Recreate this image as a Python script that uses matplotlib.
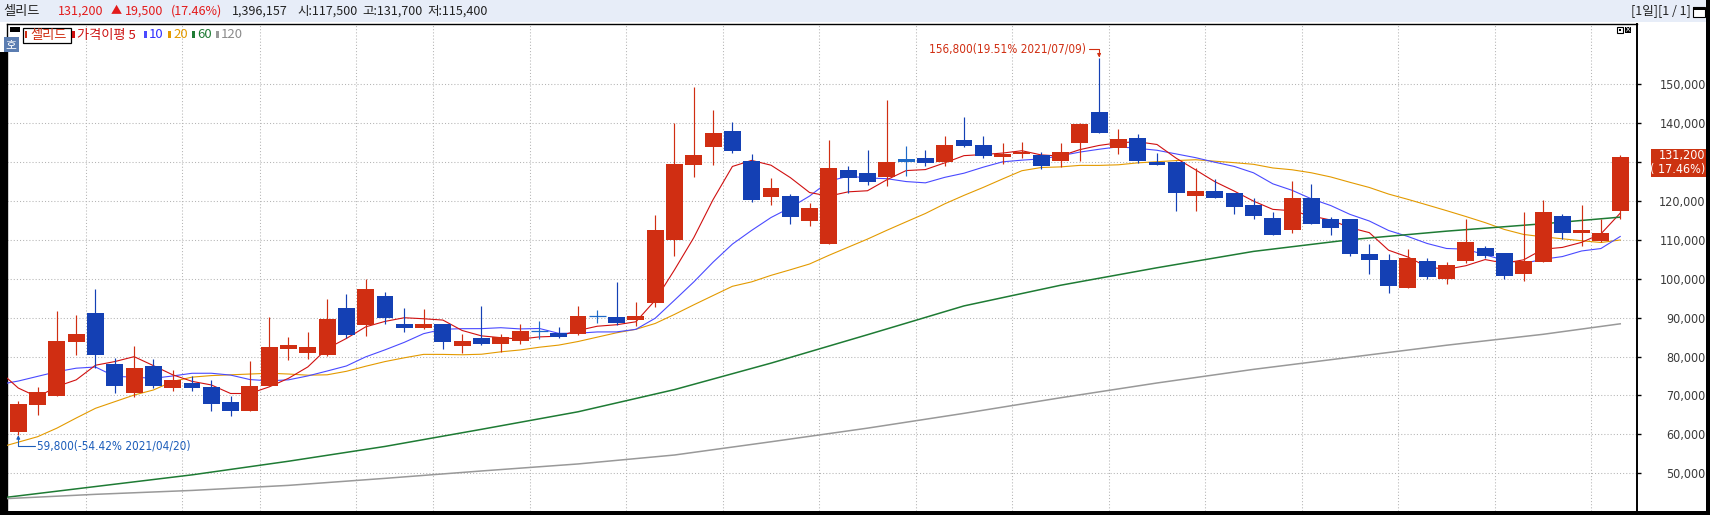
import matplotlib
matplotlib.use('Agg')
import matplotlib.pyplot as plt
import matplotlib.patches as mpatches
from matplotlib import font_manager as fm
import pandas as pd

W, H = 1710, 515

# trading days shown (Korean market holidays removed)
dates = pd.bdate_range('2021-04-20', '2021-08-18')
dates = dates[~dates.isin(pd.to_datetime(['2021-05-05', '2021-05-19', '2021-08-16']))]

opens = [60700, 67600, 69900, 83800, 91200, 78100, 70600, 77600, 71800, 73300,
         72200, 68300, 66100, 72500, 82000, 80900, 80400, 92500, 88100, 95600,
         88400, 87200, 88400, 82800, 84800, 83200, 84100, 86600, 86100, 85800,
         90400, 90200, 89500, 93800, 109900, 129300, 133900, 137900, 130200, 121100,
         121200, 114700, 108800, 128000, 127100, 126100, 130800, 131100, 129900, 135700,
         134400, 131300, 131900, 131700, 130100, 134800, 142900, 133500, 136200, 129900,
         129900, 121200, 122400, 121900, 118800, 115700, 112400, 120600, 115200, 115200,
         106400, 104900, 97700, 104600, 99800, 104600, 108000, 106700, 101300, 104400,
         116200, 111800, 109800, 117500]
highs = [68700, 72100, 91800, 90700, 97400, 79600, 82700, 79400, 76600, 75000,
         74000, 69900, 78900, 90200, 85000, 86200, 94800, 96100, 99800, 96600,
         92500, 92200, 88400, 85800, 93000, 85800, 88400, 89100, 87600, 93000,
         92000, 99200, 94000, 116400, 139900, 149300, 143300, 140200, 131900, 125900,
         121800, 119400, 135700, 129000, 133100, 146000, 134200, 133100, 136700, 141600,
         136700, 134900, 135200, 132500, 134900, 140000, 156800, 138500, 137200, 132400,
         130300, 128400, 125600, 121900, 120600, 117100, 125200, 124400, 115900, 115200,
         109000, 106400, 107500, 105400, 104400, 115400, 108500, 106700, 117000, 120100,
         116700, 118800, 115400, 131700]
lows = [59800, 65000, 69800, 80400, 77000, 70700, 69500, 71900, 71200, 71200,
        65900, 64600, 66100, 72500, 79000, 79400, 80200, 84700, 85300, 88400,
        86400, 87000, 82000, 80900, 83000, 81100, 83200, 84400, 84800, 85500,
        88500, 88100, 87900, 92800, 105700, 126200, 129300, 132400, 119700, 119000,
        114100, 113400, 108800, 121900, 124000, 123700, 126300, 128900, 128900, 133700,
        130900, 129400, 131100, 128100, 128600, 130300, 137300, 131900, 129800, 129100,
        117300, 117300, 120800, 116700, 115200, 111100, 111600, 114100, 111100, 105700,
        101300, 96200, 97500, 99800, 98500, 103900, 105200, 99800, 99300, 104400,
        110300, 108500, 109300, 115400]
closes = [67800, 70800, 84000, 85800, 80400, 72500, 77100, 72500, 74000, 72000,
          67900, 66100, 72500, 82500, 83000, 82500, 89700, 85500, 97400, 90000,
          87200, 88400, 83800, 84000, 83100, 84900, 86600, 86600, 84900, 90400,
          90400, 88500, 90400, 112500, 129500, 131800, 137400, 132900, 120300, 123300,
          115900, 118200, 128300, 125800, 124700, 130000, 130000, 129600, 134400, 134000,
          131400, 131900, 132600, 129000, 132600, 139600, 137300, 136000, 130300, 129100,
          121900, 122400, 120800, 118300, 116200, 111300, 120600, 114100, 113100, 106400,
          104900, 98000, 105400, 100300, 103400, 109500, 105900, 100800, 104600, 117000,
          111800, 112400, 111700, 131200]
volume = 1396157

# moving-average values before enough candles are on screen (from index -1)
ma5_head = [76300, 71900, 69600, 72300, 74000]
ma10_head = [72800, 73700, 74900, 76100, 77000, 77300, 74900, 74700, 74400, 75000]
ma20_head = [56600, 58000, 59400, 61600, 64200, 66700, 68400, 70100, 71400, 73600,
             74700, 75100, 75300, 75500, 75700, 75500, 75200, 75300, 76200, 77500]
ma_idx = [-1, 4, 9, 14, 19, 24, 29, 34, 39, 44, 49, 54, 59, 64, 69, 74, 79, 83]
ma60_val = [43600, 46600, 49600, 53100, 56900, 61300, 65800, 71500, 78300, 85600,
            93000, 98300, 102800, 107000, 110000, 112200, 114100, 115800]
ma120_val = [43400, 44600, 45600, 46900, 48700, 50600, 52400, 54700, 58100, 61600,
             65400, 69400, 73200, 76700, 79800, 82900, 85700, 88400]

RED = '#D02E12'
BLUE = '#1440B4'
FLAT = '#1E6AC8'
UPTXT = '#E31B1B'
KR = ['Noto Sans CJK KR', 'DejaVu Sans']

# the HTS numerals are tall and narrow: take a narrow face if one is installed
NUM = fm.FontProperties(family='Liberation Sans', size=8.5)
for key, size in [('LiberationSansNarrow-Regular', 10), ('DejaVuSansCondensed.ttf', 8.5),
                  ('RobotoCondensed-Regular', 9.5), ('Condensed-Regular', 9)]:
    hits = [f.fname for f in fm.fontManager.ttflist if key in f.fname]
    if hits:
        NUM = fm.FontProperties(fname=sorted(hits)[0], size=size)
        break


def num(size_add=0):
    p = NUM.copy()
    p.set_size(NUM.get_size() + size_add)
    return p


fig = plt.figure(figsize=(W / 100, H / 100), dpi=100)
fig.patch.set_facecolor('white')


def rect(x0, y0, x1, y1, **kw):
    # pixel box, origin top-left
    r = mpatches.Rectangle((x0 / W, 1 - y1 / H), (x1 - x0) / W, (y1 - y0) / H,
                           transform=fig.transFigure, **kw)
    fig.add_artist(r)
    return r


def ftext(x, y, s, **kw):
    return fig.text(x / W, 1 - y / H, s, **kw)


ax = fig.add_axes([7 / W, 1 - 511 / H, (1637 - 7) / W, (511 - 24) / H])
ax.set_xlim(-0.585, 83.87)
ax.set_ylim(40316, 165413)
ax.set_facecolor('white')

last = closes[-1]
prev = closes[-2]

# weekly separators
week_start = [i for i in range(1, len(dates)) if dates[i].weekday() < dates[i - 1].weekday()]
ax.set_xticks([i - 0.5 for i in week_start])
ax.set_xticklabels([])
ax.tick_params(axis='x', length=0)
yt = list(range(50000, 160000, 10000))
ax.set_yticks(yt)
# the label under the current-price tag is hidden by the tag
ax.set_yticklabels(['' if abs(v - last) < 3000 else f'{v:,}' for v in yt],
                   fontproperties=num(0.5), color='#3a3a3a', ha='right')
ax.yaxis.tick_right()
ax.tick_params(axis='y', length=3, width=1, direction='out', pad=46.5, color='black')
ax.grid(True, linestyle=(0, (1, 2)), color='#b4b4b4', linewidth=0.75)
ax.set_axisbelow(True)
for side in ['top', 'left', 'right']:
    ax.spines[side].set_color('black')
ax.spines['top'].set_linewidth(1.0)
ax.spines['left'].set_linewidth(1.0)
ax.spines['right'].set_linewidth(1.4)
ax.spines['bottom'].set_visible(False)

# moving averages
c = pd.Series(closes, dtype=float)
xs_full = list(range(-1, len(closes)))
for n, head, col in [(20, ma20_head, '#E39A00'), (10, ma10_head, '#4A4AFF'), (5, ma5_head, '#D01010')]:
    vals = head + c.rolling(n).mean().iloc[n - 1:].tolist()
    ax.plot(xs_full, vals, color=col, lw=0.8, zorder=3)
ax.plot(ma_idx, ma60_val, color='#1E7B34', lw=1.1, zorder=3)
ax.plot(ma_idx, ma120_val, color='#999999', lw=1.1, zorder=3)

# candles
for i in range(len(closes)):
    o, h, l, cl = opens[i], highs[i], lows[i], closes[i]
    if i > 0 and cl == closes[i - 1]:
        col = FLAT
    elif cl >= o:
        col = RED
    else:
        col = BLUE
    ax.vlines(i, l, h, color=col, lw=0.85, zorder=4)
    if o == cl:
        ax.hlines(cl, i - 0.44, i + 0.44, color=col, lw=0.9, zorder=5)
    else:
        ax.bar(i, abs(cl - o), bottom=min(o, cl), width=0.88, color=col, linewidth=0, zorder=5)

# max / min markers relative to the last close
imax = highs.index(max(highs))
imin = lows.index(min(lows))
ax.annotate(f'{highs[imax]:,}({(highs[imax] / last - 1) * 100:.2f}% {dates[imax]:%Y/%m/%d})',
            xy=(imax, highs[imax]), xytext=(-13, 8.5), textcoords='offset pixels',
            ha='right', va='center', color=RED, fontproperties=num(), zorder=6,
            arrowprops=dict(arrowstyle='-|>', color=RED, lw=0.8, mutation_scale=5,
                            shrinkA=0, shrinkB=0,
                            connectionstyle='angle,angleA=0,angleB=90,rad=0'))
ax.annotate(f'{lows[imin]:,}({(lows[imin] / last - 1) * 100:.2f}% {dates[imin]:%Y/%m/%d})',
            xy=(imin, lows[imin]), xytext=(19, -10.5), textcoords='offset pixels',
            ha='left', va='center', color='#1C5DBA', fontproperties=num(), zorder=6,
            arrowprops=dict(arrowstyle='-|>', color='#1C5DBA', lw=0.8, mutation_scale=5,
                            shrinkA=0, shrinkB=0,
                            connectionstyle='angle,angleA=0,angleB=90,rad=0'))

# frame pieces
rect(0, 0, 1706, 22, facecolor='#E7EDF8', edgecolor='none')
rect(1706, 0, 1710, 515, facecolor='black', edgecolor='none')
rect(0, 511, 1710, 515, facecolor='black', edgecolor='none')
rect(0, 52, 7, 515, facecolor='black', edgecolor='none')

# header
ftext(3, 11, '셀리드', family=KR, fontsize=9.5, color='#222222', va='center')
ftext(58, 11, f'{last:,}', family=KR, fontsize=9, color=UPTXT, va='center')
ftext(111, 11, '▲', family=KR, fontsize=8, color=UPTXT, va='center')
ftext(125, 11, f'{last - prev:,}', family=KR, fontsize=9, color=UPTXT, va='center')
ftext(171, 11, f'({(last / prev - 1) * 100:.2f}%)', family=KR, fontsize=9, color=UPTXT, va='center')
ftext(232, 11, f'{volume:,}', family=KR, fontsize=9, color='#222222', va='center')
ftext(297, 11, f'시:{opens[-1]:,}', family=KR, fontsize=9, color='#222222', va='center')
ftext(362, 11, f'고:{highs[-1]:,}', family=KR, fontsize=9, color='#222222', va='center')
ftext(427, 11, f'저:{lows[-1]:,}', family=KR, fontsize=9, color='#222222', va='center')
ftext(1691, 11, '[1일][1 / 1]', family=KR, fontsize=9, color='#222222', va='center', ha='right')
rect(1693, 7, 1705, 17, facecolor='white', edgecolor='black', lw=0.8)
rect(1693, 7, 1705, 9.5, facecolor='black', edgecolor='none')

# legend row
rect(10, 27, 20, 32, facecolor='black', edgecolor='none')
rect(23, 28.5, 70.5, 42.5, facecolor='white', edgecolor='black', lw=0.9)
rect(24.5, 31, 27, 38, facecolor=RED, edgecolor='none')
ftext(30, 35, '셀리드', family=KR, fontsize=9.5, color=RED, va='center')
legend_items = [(72, '가격이평 5', '#D01010', '#CC1010'), (144, '10', '#4A4AFF', '#3030FF'),
                (168, '20', '#E39A00', '#E39A00'), (192, '60', '#1E7B34', '#1E7B34'),
                (216, '120', '#999999', '#8c8c8c')]
for x0, lab, bar_col, txt_col in legend_items:
    rect(x0, 31, x0 + 3, 38, facecolor=bar_col, edgecolor='none')
    ftext(x0 + 5, 35, lab, family=KR, fontsize=9.5, color=txt_col, va='center')
rect(4, 37, 18.5, 52, facecolor='#5B7DB1', edgecolor='none')
ftext(11.3, 44.5, '호', family=KR, fontsize=8.5, color='white', va='center', ha='center')

# window icons in the chart corner
rect(1617, 27, 1623, 33, facecolor='white', edgecolor='black', lw=0.8)
rect(1618.8, 28.8, 1621.2, 31.2, facecolor='black', edgecolor='none')
rect(1625, 27, 1631, 33, facecolor='black', edgecolor='none')
ftext(1628, 30, '×', family='DejaVu Sans', fontsize=5.5, color='white', va='center', ha='center')

# current price tag on the axis
cy = H - ax.transData.transform((0, last))[1]
rect(1651, cy - 8.2, 1706, cy + 19.5, facecolor='#CC3311', edgecolor='none')
ftext(1705, cy - 1.2, f'{last:,}', fontproperties=num(0.5), color='white', va='center', ha='right')
ftext(1705, cy + 12.8, f'( {(last / prev - 1) * 100:.2f}%)', fontproperties=num(0.5),
      color='white', va='center', ha='right')

fig.savefig('out.png', dpi=100)
